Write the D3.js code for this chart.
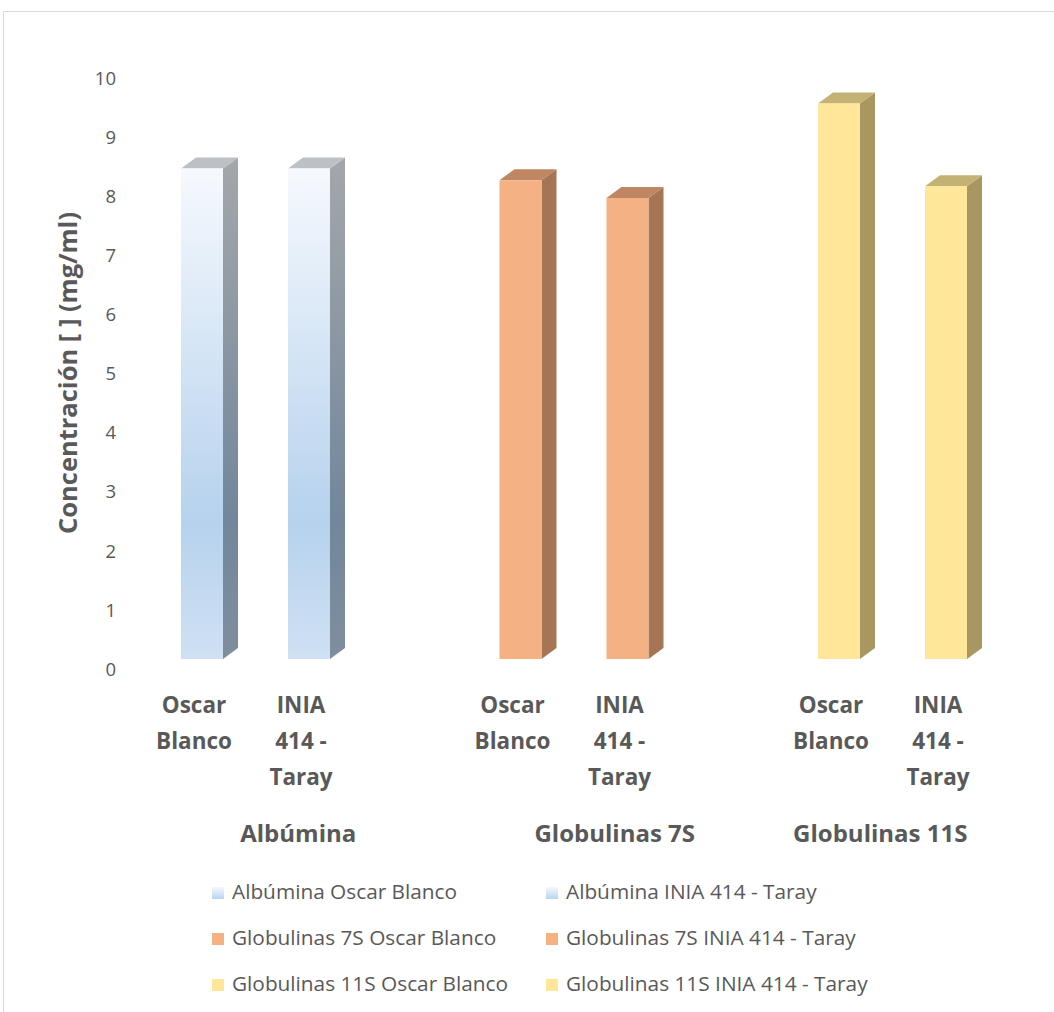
<!DOCTYPE html>
<html>
<head>
<meta charset="utf-8">
<script src="https://cdn.jsdelivr.net/npm/d3@7"></script>
<style>
  html, body { margin: 0; padding: 0; background: #fff; }
  svg { display: block; }
  text { font-family: "Open Sans", Lato, sans-serif; fill: #595959; }
</style>
</head>
<body>
<svg id="chart" width="1054" height="1012"></svg>
<script>
// Protein fractions and cultivars
const groups = ["Albúmina", "Globulinas 7S", "Globulinas 11S"];
const cultivars = ["Oscar Blanco", "INIA 414 - Taray"];
const cultivarLines = [["Oscar", "Blanco"], ["INIA", "414 -", "Taray"]];

// Concentration (mg/ml), one array per cultivar, in group order
const oscarBlanco = [8.3, 8.1, 9.4];
const iniaTaray = [8.3, 7.8, 8.0];

const yTicks = [0, 1, 2, 3, 4, 5, 6, 7, 8, 9, 10];

// Face colours for each fraction: front gradient stops, side gradient stops, top
const palette = {
  "Albúmina": {
    front: [["0%", "#f6f9fe"], ["72%", "#b6d2ed"], ["100%", "#cfe1f3"]],
    side: [["0%", "#a4a7ab"], ["72%", "#72879b"], ["100%", "#7f8e9d"]],
    top: "#bdc0c4",
    swatch: [["0%", "#f4f8fd"], ["100%", "#b9d4ee"]]
  },
  "Globulinas 7S": {
    front: [["0%", "#f4b183"], ["100%", "#f4b183"]],
    side: [["0%", "#a67654"], ["100%", "#a67654"]],
    top: "#be8662",
    swatch: [["0%", "#f4b183"], ["100%", "#f4b183"]]
  },
  "Globulinas 11S": {
    front: [["0%", "#ffe699"], ["100%", "#ffe699"]],
    side: [["0%", "#a99762"], ["100%", "#a99762"]],
    top: "#c4b174",
    swatch: [["0%", "#ffe699"], ["100%", "#ffe699"]]
  }
};

const rows = [];
groups.forEach((g, gi) => {
  rows.push({ group: g, cultivar: cultivars[0], ci: 0, value: oscarBlanco[gi] });
  rows.push({ group: g, cultivar: cultivars[1], ci: 1, value: iniaTaray[gi] });
});

const svg = d3.select("#chart");
const W = 1054, H = 1012;

// chart frame
svg.append("rect")
  .attr("x", 3.5).attr("y", 11.5)
  .attr("width", W + 10).attr("height", H + 10)
  .attr("fill", "none").attr("stroke", "#d9d9d9").attr("stroke-width", 1);

// scales
const x0 = d3.scaleBand().domain(groups).range([97, 1052.5]);
const x1 = d3.scalePoint().domain(cultivars).range([105, 212]);
const y = d3.scaleLinear().domain([0, 10]).range([669, 78]);

const barW = 42;       // front face width
const depthX = 15;     // oblique depth offsets
const depthY = 11;
const floorLift = 10;  // front faces stand above the axis baseline

// gradients
const defs = svg.append("defs");
function addGradient(id, stops) {
  const lg = defs.append("linearGradient").attr("id", id)
    .attr("x1", 0).attr("y1", 0).attr("x2", 0).attr("y2", 1);
  stops.forEach(s => lg.append("stop").attr("offset", s[0]).attr("stop-color", s[1]));
}
groups.forEach((g, gi) => {
  addGradient("front" + gi, palette[g].front);
  addGradient("side" + gi, palette[g].side);
  addGradient("sw" + gi, palette[g].swatch);
});

// y axis tick labels (no line, no gridlines)
const yAxis = d3.axisLeft(y).tickValues(yTicks).tickSize(0).tickPadding(0);
const yg = svg.append("g").attr("transform", "translate(116,0)").call(yAxis);
yg.select(".domain").remove();
yg.selectAll("text")
  .style("font-family", "'Open Sans', Lato, sans-serif")
  .style("font-size", "18.5px")
  .attr("fill", "#595959")
  .attr("dy", "0.34em");

// y axis title
svg.append("text")
  .attr("transform", "translate(77,373) rotate(-90)")
  .attr("text-anchor", "middle")
  .style("font-size", "25.5px")
  .style("font-weight", "bold")
  .text("Concentración [ ] (mg/ml)");

// 3D columns
const bars = svg.append("g").selectAll("g.bar").data(rows).join("g").attr("class", "bar");
bars.each(function(d) {
  const gi = groups.indexOf(d.group);
  const xl = x0(d.group) + x1(d.cultivar) - barW / 2;
  const xr = xl + barW;
  const yb = y(0) - floorLift;
  const yt = y(d.value) - floorLift;
  const g = d3.select(this);
  // side face
  g.append("path")
    .attr("d", `M${xr},${yt}L${xr + depthX},${yt - depthY}L${xr + depthX},${yb - depthY}L${xr},${yb}Z`)
    .attr("fill", `url(#side${gi})`);
  // top face
  g.append("path")
    .attr("d", `M${xl},${yt}L${xl + depthX},${yt - depthY}L${xr + depthX},${yt - depthY}L${xr},${yt}Z`)
    .attr("fill", palette[d.group].top);
  // front face
  g.append("rect")
    .attr("x", xl).attr("y", yt)
    .attr("width", barW).attr("height", yb - yt)
    .attr("fill", `url(#front${gi})`);
});

// cultivar labels under each column
const catLabels = svg.append("g").selectAll("text").data(rows).join("text")
  .attr("text-anchor", "middle")
  .style("font-size", "22.5px")
  .style("font-weight", "bold")
  .attr("transform", d => `translate(${x0(d.group) + x1(d.cultivar) - 8},713)`);
catLabels.selectAll("tspan").data(d => cultivarLines[d.ci]).join("tspan")
  .attr("x", 0).attr("dy", (t, i) => i === 0 ? 0 : 36).text(t => t);

// fraction labels
const groupShift = [42, 40, -13];
svg.append("g").selectAll("text").data(groups).join("text")
  .attr("x", (g, i) => x0(g) + x0.bandwidth() / 2 + groupShift[i])
  .attr("y", 842)
  .attr("text-anchor", "middle")
  .style("font-size", "24px")
  .style("font-weight", "bold")
  .text(g => g);

// legend, two columns
const legendItems = [];
groups.forEach((g, gi) => cultivars.forEach((c, ci) => legendItems.push({ g, gi, c, ci })));
const leg = svg.append("g").selectAll("g").data(legendItems).join("g")
  .attr("transform", (d, i) => `translate(${d.ci === 0 ? 212 : 546},${892 + d.gi * 46})`);
leg.append("rect")
  .attr("x", 0).attr("y", -5).attr("width", 12).attr("height", 12)
  .attr("fill", d => `url(#sw${d.gi})`);
leg.append("text")
  .attr("x", 20).attr("y", 0).attr("dy", "0.35em")
  .style("font-size", "20.8px")
  .text(d => `${d.g} ${d.c}`);
</script>
</body>
</html>
